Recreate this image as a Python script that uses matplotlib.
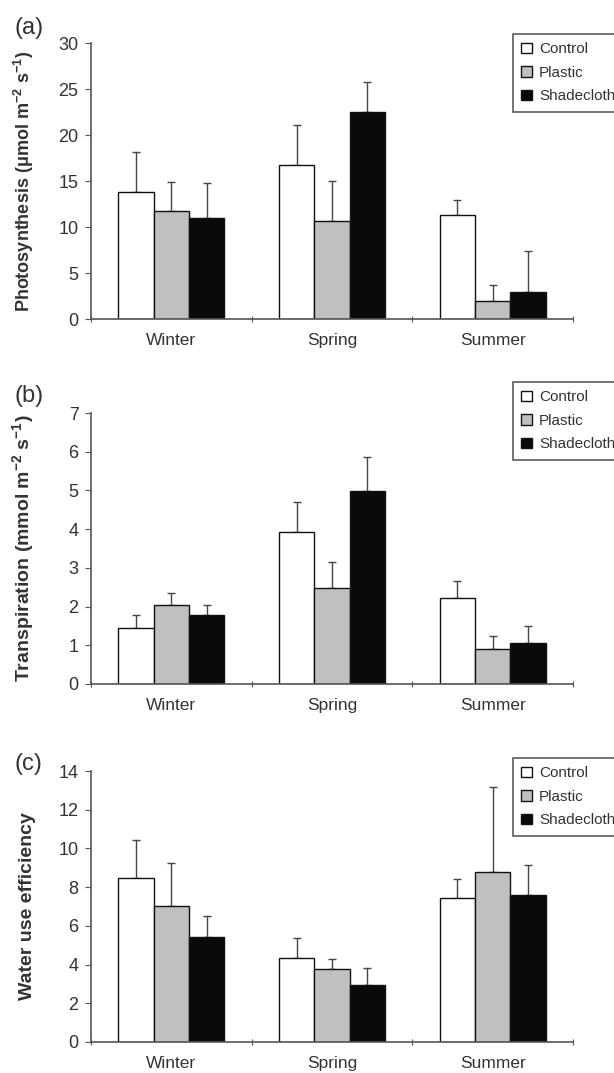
import matplotlib.pyplot as plt
import numpy as np

plt.rcParams['font.family'] = ['Liberation Sans', 'DejaVu Sans']
plt.rcParams['mathtext.fontset'] = 'custom'
plt.rcParams['mathtext.rm'] = 'Liberation Sans:bold'
plt.rcParams['mathtext.it'] = 'Liberation Sans:bold'
plt.rcParams['mathtext.bf'] = 'Liberation Sans:bold'

# Data
seasons = ['Winter', 'Spring', 'Summer']
treatments = ['Control', 'Plastic', 'Shadecloth']
colors = ['white', '#c0c0c0', '#0a0a0a']

photo_mean = [[13.8, 16.7, 11.3], [11.75, 10.7, 1.96], [11.0, 22.45, 2.9]]
photo_err = [[4.3, 4.4, 1.65], [3.15, 4.35, 1.78], [3.8, 3.3, 4.54]]

transp_mean = [[1.44, 3.93, 2.22], [2.05, 2.47, 0.90], [1.77, 4.98, 1.05]]
transp_err = [[0.33, 0.76, 0.45], [0.31, 0.69, 0.35], [0.26, 0.88, 0.45]]

wue_mean = [[8.47, 4.34, 7.44], [7.01, 3.77, 8.78], [5.41, 2.94, 7.58]]
wue_err = [[1.97, 1.02, 0.96], [2.22, 0.52, 4.39], [1.08, 0.90, 1.55]]

panels = [
    ('(a)', photo_mean, photo_err, 'Photosynthesis (\u03bcmol m$^{-2}$ s$^{-1}$)', 30, 5, 13),
    ('(b)', transp_mean, transp_err, 'Transpiration (mmol m$^{-2}$ s$^{-1}$)', 7, 1, 14),
    ('(c)', wue_mean, wue_err, 'Water use efficiency', 14, 2, 14),
]

# panel boxes in pixels (top, bottom), legend top, label centre
W, H = 614, 1073
boxes = [(43, 319, 34, 28), (413, 684, 382, 396), (771, 1042, 758, 764)]

fig = plt.figure(figsize=(W / 100, H / 100), dpi=100)
text_col = '#333333'
axis_col = '#555555'

x = np.arange(len(seasons)) + 0.5
width = 0.22

for (tag, means, errs, ylab, ymax, step, ysize), (top, bot, legtop, labc) in zip(panels, boxes):
    ax = fig.add_axes([91 / W, 1 - bot / H, (573 - 91) / W, (bot - top) / H])
    for i, name in enumerate(treatments):
        xi = x + (i - 1) * width
        ax.bar(xi, means[i], width, color=colors[i], edgecolor='#111111',
               linewidth=1.0, label=name, zorder=2)
        ax.errorbar(xi, means[i], yerr=[np.zeros(3), errs[i]], fmt='none',
                    ecolor='#444444', elinewidth=1.0, capsize=3, capthick=1.0, zorder=1)
    ax.set_xlim(0, 3)
    ax.set_ylim(0, ymax)
    ax.set_yticks(np.arange(0, ymax + step / 2, step))
    ax.set_xticks([0, 1, 2, 3])
    ax.set_xticklabels([])
    ax.set_xticks(x, minor=True)
    ax.set_xticklabels(seasons, minor=True)
    ax.tick_params(axis='x', which='minor', length=0, pad=10, labelsize=12.5, labelcolor=text_col)
    ax.tick_params(axis='x', which='major', length=4, color=axis_col, direction='inout')
    ax.tick_params(axis='y', length=4, color=axis_col, labelsize=13, labelcolor=text_col, pad=5)
    for s in ['top', 'right']:
        ax.spines[s].set_visible(False)
    for s in ['left', 'bottom']:
        ax.spines[s].set_color(axis_col)
        ax.spines[s].set_linewidth(1.2)
    ax.set_ylabel(ylab, fontsize=ysize, fontweight='bold', color=text_col)
    ax.yaxis.set_label_coords(-0.114, 0.5)

    fig.text(15 / W, 1 - labc / H, tag, fontsize=17, ha='left', va='center', color=text_col)

    leg = ax.legend(loc='upper left', bbox_to_anchor=(513 / W, 1 - legtop / H),
                    bbox_transform=fig.transFigure, fontsize=11, frameon=True,
                    fancybox=False, edgecolor='#333333', handlelength=0.7,
                    handleheight=0.7, handletextpad=0.45, labelspacing=0.62,
                    borderpad=0.55, borderaxespad=0)
    leg.get_frame().set_linewidth(1.2)
    for t in leg.get_texts():
        t.set_color(text_col)

fig.savefig('out.png', dpi=100)
